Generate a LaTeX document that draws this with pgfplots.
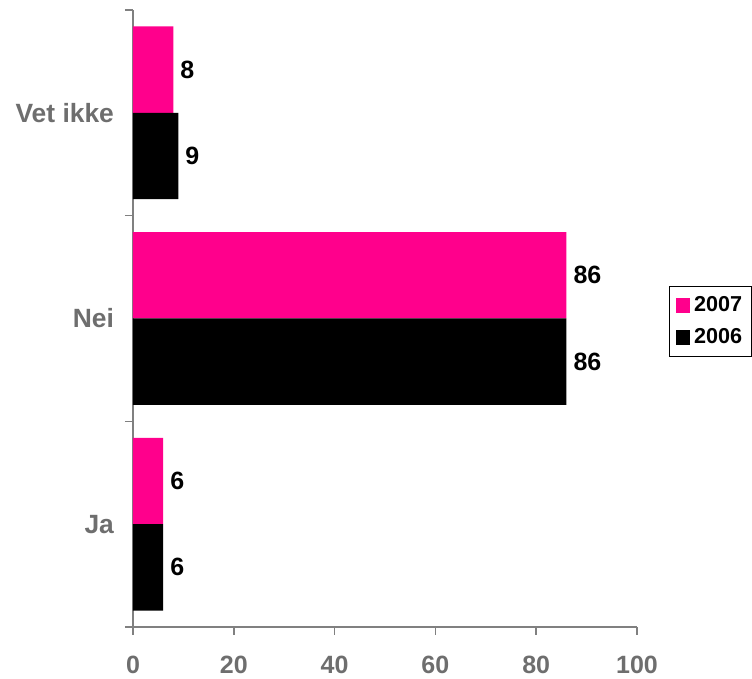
\documentclass[border=0pt]{standalone}
\usepackage{fontspec}
\setmainfont{Liberation Sans}
\usepackage{pgfplots}
\pgfplotsset{compat=1.18}
\definecolor{pinkbar}{RGB}{255,0,140}
\definecolor{axgray}{RGB}{128,128,128}
\definecolor{txtgray}{RGB}{110,110,110}
\newcommand{\bigf}{\bfseries\fontsize{12.5}{14}\selectfont}
\newcommand{\catf}{\bfseries\fontsize{13.2}{15}\selectfont}
\newcommand{\legf}{\bfseries\fontsize{10.8}{12}\selectfont}
\begin{document}
\begin{tikzpicture}
\useasboundingbox (0,0) rectangle (376pt,339.5pt);
\begin{axis}[
  at={(66.5pt,26pt)}, anchor=south west,
  width=252pt, height=308.5pt, scale only axis,
  xbar, bar width=0.42,
  xmin=0, xmax=100, ymin=-0.5, ymax=2.5,
  axis x line*=bottom, axis y line*=left,
  axis line style={draw=axgray, line width=0.8pt},
  tick style={draw=axgray, line width=0.8pt},
  tick align=outside, major tick length=4pt,
  xtick={0,20,...,100},
  x tick label style={font=\bigf, text=txtgray, yshift=-7pt},
  /pgf/number format/assume math mode=true,
  ytick={-0.5,0.5,1.5,2.5}, yticklabels={},
  extra y ticks={0,1,2},
  extra y tick labels={Ja,Nei,Vet ikke},
  extra y tick style={major tick length=0pt, tick style={draw=none},
    y tick label style={font=\catf, text=txtgray, xshift=-6pt}},
  nodes near coords,
  nodes near coords style={font=\bigf, text=black, anchor=west},
  legend style={at={(axis description cs:1.0635,0.5527)}, anchor=north west,
    draw=black, line width=0.6pt, font=\legf, row sep=3pt,
    inner xsep=3pt, inner ysep=3pt, cells={anchor=west}},
  legend image code/.code={\fill (0pt,-3.6pt) rectangle (7.2pt,3.6pt);},
]
\addplot[fill=pinkbar, draw=none, bar shift=0.21] coordinates {(6,0) (86,1) (8,2)};
\addplot[fill=black, draw=none, bar shift=-0.21] coordinates {(6,0) (86,1) (9,2)};
\legend{2007,2006}
\end{axis}
\end{tikzpicture}
\end{document}
